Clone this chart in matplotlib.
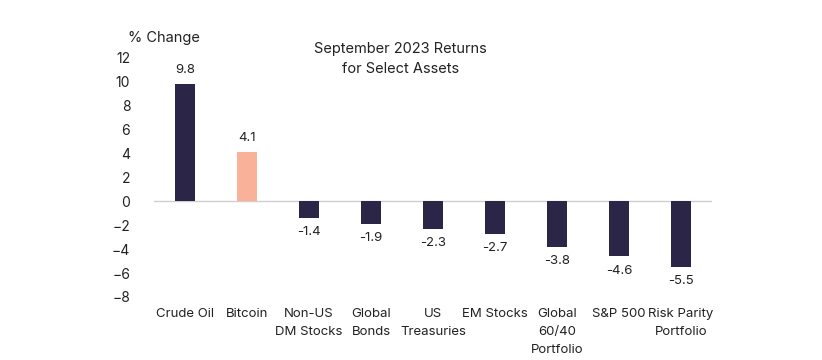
import matplotlib.pyplot as plt
import numpy as np

plt.rcParams['font.family'] = ['Inter', 'DejaVu Sans']

categories = ["Crude Oil", "Bitcoin", "Non-US\nDM Stocks", "Global\nBonds", "US\nTreasuries",
              "EM Stocks", "Global\n60/40\nPortfolio", "S&P 500", "Risk Parity\nPortfolio"]
returns = [9.8, 4.1, -1.4, -1.9, -2.3, -2.7, -3.8, -4.6, -5.5]
highlight = "Bitcoin"

navy = "#2b2548"
salmon = "#f9b19a"
colors = [salmon if c == highlight else navy for c in categories]

fig = plt.figure(figsize=(8.22, 3.6), dpi=100)
ax = fig.add_axes([0.1873, 0.175, 0.679, 0.664])

x = np.arange(len(categories))
ax.bar(x, returns, width=0.33, color=colors, zorder=3)
ax.axhline(0, color="#cfcfcf", linewidth=1, zorder=2)

# value labels: above positive bars, below negative ones
for xi, v in zip(x, returns):
    if v >= 0:
        ax.annotate(f"{v:.1f}", (xi, v), xytext=(0, 6), textcoords="offset points",
                    ha="center", va="bottom", fontsize=9.5, color="#222222")
    else:
        ax.annotate(f"{v:.1f}", (xi, v), xytext=(0, -6), textcoords="offset points",
                    ha="center", va="top", fontsize=9.5, color="#222222")

ax.set_xlim(-0.5, len(categories) - 0.5)
ax.set_ylim(-8, 12)
ax.set_yticks(range(-8, 13, 2))
ax.set_yticklabels([str(t).replace("-", "\u2212") for t in range(-8, 13, 2)])
ax.set_xticks(x)
ax.set_xticklabels(categories, fontsize=9.5, color="#222222", linespacing=1.65)
ax.tick_params(axis="x", length=0, pad=8)
ax.tick_params(axis="y", length=0, pad=17, labelsize=10, labelcolor="#222222")
for s in ax.spines.values():
    s.set_visible(False)

fig.text(0.156, 0.895, "% Change", fontsize=10.5, color="#222222", ha="left", va="center")
fig.text(0.487, 0.835, "September 2023 Returns\nfor Select Assets", fontsize=10.5,
         color="#222222", ha="center", va="center", linespacing=1.55)

fig.savefig("out.png", dpi=100)
